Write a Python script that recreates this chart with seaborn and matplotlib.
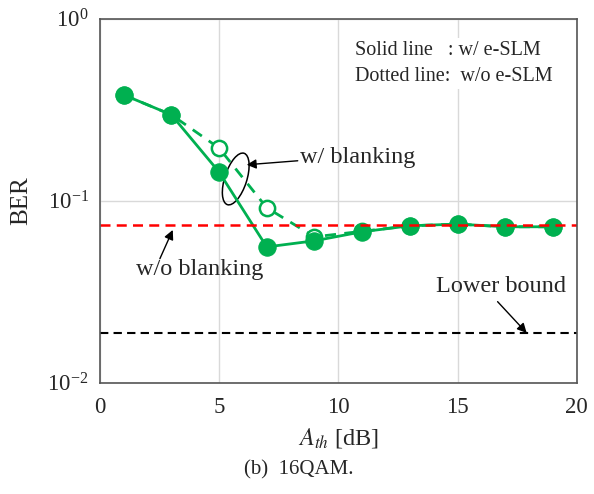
import numpy as np
import pandas as pd
import matplotlib
matplotlib.use("Agg")
import matplotlib.pyplot as plt
import seaborn as sns
from matplotlib.patches import Ellipse
from matplotlib.transforms import ScaledTranslation

# values
a_th = [1, 3, 5, 7, 9, 11, 13, 15, 17, 19]
ber_with_eslm = [0.382, 0.297, 0.144, 0.0558, 0.0603, 0.0676, 0.0729, 0.0745, 0.0720, 0.0720]
ber_without_eslm = [0.382, 0.297, 0.195, 0.0916, 0.0634, 0.0680, 0.0729, 0.0745, 0.0720, 0.0720]
ber_no_blanking = 0.0738
ber_lower_bound = 0.0188

green = "#00B050"

sns.set_style("white")
plt.rcParams["font.family"] = ["Liberation Serif", "DejaVu Serif"]
plt.rcParams["mathtext.fontset"] = "stix"

fig = plt.figure(figsize=(5.94, 4.94), dpi=100)
ax = fig.add_axes([0.168, 0.225, 0.803, 0.737])

df = pd.DataFrame({"A": a_th, "solid": ber_with_eslm, "dotted": ber_without_eslm})

# w/o e-SLM (dotted, open markers) first so the solid one sits on top
sns.lineplot(data=df, x="A", y="dotted", ax=ax, color=green, lw=2,
             linestyle=(0, (4, 3)), marker="o", markersize=11,
             markerfacecolor="white", markeredgecolor=green, markeredgewidth=1.8)
sns.lineplot(data=df, x="A", y="solid", ax=ax, color=green, lw=2,
             marker="o", markersize=12.5, markerfacecolor=green, markeredgecolor=green)

ax.axhline(ber_no_blanking, color="#FF0000", lw=1.8, ls=(0, (4, 2.5)))
ax.axhline(ber_lower_bound, color="black", lw=1.5, ls=(0, (4, 2.5)))

ax.set_yscale("log")
ax.set_xlim(0, 20)
ax.set_ylim(1e-2, 1)
ax.set_xticks([0, 5, 10, 15, 20])
ax.set_yticks([1e-2, 1e-1, 1])
ax.minorticks_off()
ax.tick_params(axis="both", length=0, labelsize=16.5)
ax.tick_params(axis="x", pad=10)
ax.tick_params(axis="y", pad=8)
ax.grid(True, color="#d9d9d9", lw=1)
for s in ax.spines.values():
    s.set_color("#555555")
    s.set_linewidth(1.2)

ax.set_xlabel("$A_{th}$ [dB]", fontsize=17.5, labelpad=6)
ax.set_ylabel("BER", fontsize=18, labelpad=11)

# annotations
ax.text(0.535, 0.877, "Solid line   : w/ e-SLM\nDotted line:  w/o e-SLM",
        transform=ax.transAxes, ha="left", va="center", fontsize=14.5,
        linespacing=1.5, bbox=dict(facecolor="white", edgecolor="none", pad=2))

ell_pos = ScaledTranslation(0.285, 0.56, ax.transAxes)
ax.add_patch(Ellipse((0, 0), 0.22, 0.54, angle=-18,
                     transform=fig.dpi_scale_trans + ell_pos,
                     fill=False, edgecolor="black", lw=1.1))

arrow = dict(arrowstyle="-|>", color="black", lw=1, shrinkA=0, shrinkB=0, mutation_scale=14)
ax.annotate("", xy=(0.308, 0.599), xytext=(0.415, 0.610), xycoords="axes fraction", arrowprops=arrow)
ax.annotate("", xy=(0.153, 0.420), xytext=(0.126, 0.341), xycoords="axes fraction", arrowprops=arrow)
ax.annotate("", xy=(0.895, 0.137), xytext=(0.834, 0.223), xycoords="axes fraction", arrowprops=arrow)

ax.text(0.541, 0.618, "w/ blanking", transform=ax.transAxes, ha="center", va="center", fontsize=17.5)
ax.text(0.210, 0.310, "w/o blanking", transform=ax.transAxes, ha="center", va="center", fontsize=17.5)
ax.text(0.842, 0.266, "Lower bound", transform=ax.transAxes, ha="center", va="center", fontsize=17.5)

fig.text(0.503, 0.049, "(b)  16QAM.", ha="center", va="center", fontsize=15)

fig.savefig("out.png", dpi=100)
